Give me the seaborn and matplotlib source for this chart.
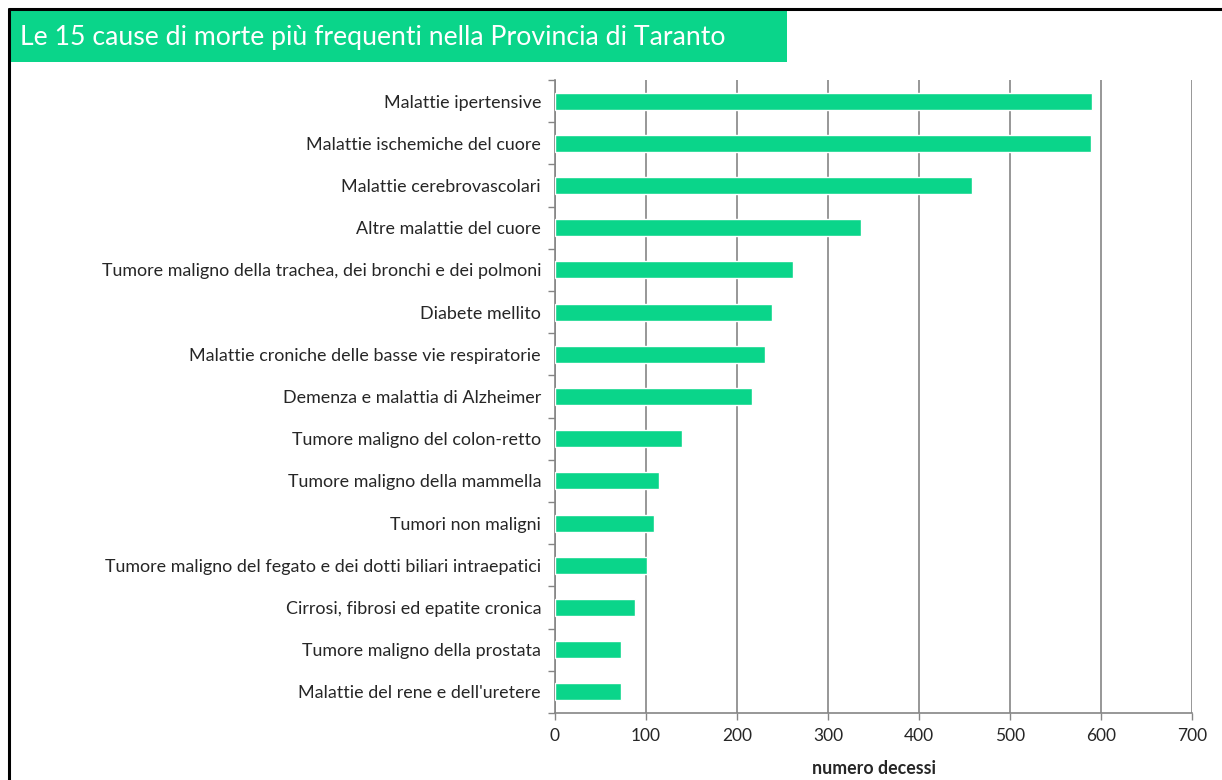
import matplotlib
matplotlib.use("Agg")
import matplotlib.pyplot as plt
from matplotlib.patches import Rectangle
from matplotlib.lines import Line2D
from matplotlib.ticker import FixedLocator
import seaborn as sns
import pandas as pd

# Causes of death and number of deaths
causes = [
    "Malattie ipertensive",
    "Malattie ischemiche del cuore",
    "Malattie cerebrovascolari",
    "Altre malattie del cuore",
    "Tumore maligno della trachea, dei bronchi e dei polmoni",
    "Diabete mellito",
    "Malattie croniche delle basse vie respiratorie",
    "Demenza e malattia di Alzheimer",
    "Tumore maligno del colon-retto",
    "Tumore maligno della mammella",
    "Tumori non maligni",
    "Tumore maligno del fegato e dei dotti biliari intraepatici",
    "Cirrosi, fibrosi ed epatite cronica",
    "Tumore maligno della prostata",
    "Malattie del rene e dell'uretere",
]
deaths = [590, 589, 458, 336, 262, 239, 231, 217, 140, 114, 109, 101, 88, 73, 73]
x_ticks = [0, 100, 200, 300, 400, 500, 600, 700]

title = "Le 15 cause di morte più frequenti nella Provincia di Taranto"
x_label = "numero decessi"

GREEN = "#0AD58A"
GRID = "#858585"
TEXT = "#262626"

sns.set_theme(style="white")
plt.rcParams["font.family"] = ["Lato", "DejaVu Sans"]

W, H = 1222, 780
fig = plt.figure(figsize=(W / 100, H / 100), dpi=100)
fig.patch.set_facecolor("white")

ax = fig.add_axes([555 / W, 1 - 713 / H, (1192 - 555) / W, (713 - 80) / H])

df = pd.DataFrame({"causa": causes, "decessi": deaths})
sns.barplot(data=df, y="causa", x="decessi", orient="h", color=GREEN,
            saturation=1, width=0.4, ax=ax, zorder=3)

ax.set_xlim(0, 700)
ax.set_ylim(len(causes) - 0.5, -0.5)
ax.xaxis.set_major_locator(FixedLocator(x_ticks))
ax.set_xticklabels([str(v) for v in x_ticks])
ax.grid(axis="x", color=GRID, linewidth=1.2, zorder=0)
ax.grid(axis="y", visible=False)

# category separators as outward ticks on the value axis
ax.yaxis.set_minor_locator(FixedLocator([i - 0.5 for i in range(len(causes) + 1)]))
ax.tick_params(axis="y", which="major", length=0, pad=10, labelsize=12.9, labelcolor=TEXT)
ax.tick_params(axis="y", which="minor", left=True, length=5, width=1, color=GRID)
ax.tick_params(axis="x", which="major", bottom=True, length=5, width=1, color=GRID,
               pad=6, labelsize=12.5, labelcolor=TEXT)

for side in ["top", "right"]:
    ax.spines[side].set_visible(False)
for side in ["left", "bottom"]:
    ax.spines[side].set_color(GRID)
    ax.spines[side].set_linewidth(1.2)

ax.set_ylabel("")
ax.set_xlabel(x_label, fontsize=12.8, fontweight="bold", color=TEXT, labelpad=11)

# title banner
fig.patches.append(Rectangle((9 / W, 1 - 62 / H), (787 - 9) / W, (62 - 10) / H,
                             transform=fig.transFigure, facecolor=GREEN,
                             edgecolor="none", zorder=0))
fig.text(20 / W, 1 - 37 / H, title, color="white", fontsize=19.2,
         ha="left", va="center")

# outer frame lines
fig.add_artist(Line2D([9 / W, 1], [1 - 9 / H, 1 - 9 / H], color="black", linewidth=2.2,
                      transform=fig.transFigure))
fig.add_artist(Line2D([9 / W, 9 / W], [0, 1 - 9 / H], color="black", linewidth=2.2,
                      transform=fig.transFigure))

fig.savefig("out.png", dpi=100, facecolor="white")
